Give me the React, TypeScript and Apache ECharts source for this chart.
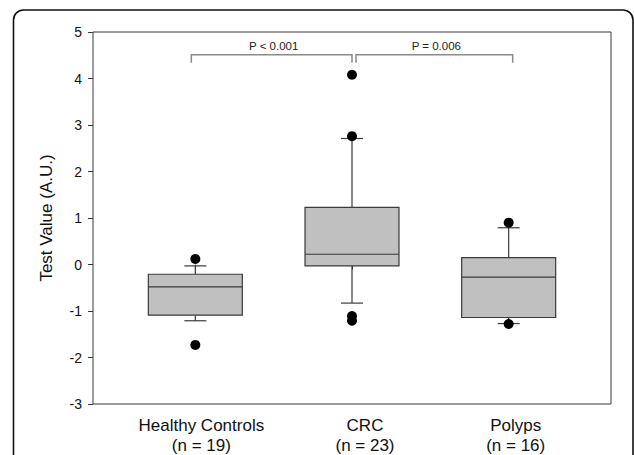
import React, { useEffect, useRef } from "react";
import * as echarts from "echarts";

const categories = ["Healthy Controls", "CRC", "Polyps"];
const sampleSizes = [19, 23, 16];
// [lower whisker, Q1, median, Q3, upper whisker]
const boxStats = [
  [-1.21, -1.09, -0.48, -0.21, -0.03],
  [-0.83, -0.03, 0.22, 1.23, 2.71],
  [-1.27, -1.14, -0.27, 0.15, 0.79],
];
// [category index, value]
const outliers = [
  [0, 0.12],
  [0, -1.73],
  [1, 4.08],
  [1, 2.76],
  [1, -1.11],
  [1, -1.21],
  [2, 0.9],
  [2, -1.28],
];
const comparisonFrom = [0, 1];
const comparisonTo = [1, 2];
const comparisonLabels = ["P < 0.001", "P = 0.006"];
const bracketLevel = 4.51;
const bracketFoot = 4.34;
const yMin = -3;
const yMax = 5;
const yInterval = 1;

const FONT = '"Liberation Sans", Arial, Helvetica, sans-serif';
const DARK = "#3a3a3a";

export default function App() {
  const ref = useRef<HTMLDivElement>(null);

  useEffect(() => {
    if (!ref.current) return;
    const chart = echarts.init(ref.current, undefined, { renderer: "svg" });

    const labelShift = [12, 26, 14];
    const rich: any = {};
    categories.forEach((_, i) => {
      rich["c" + i] = {
        fontSize: 17,
        lineHeight: 19.5,
        fontFamily: FONT,
        color: "#111",
        padding: [0, 0, 0, labelShift[i]],
      };
    });

    const bracketOffsetL = [-4, 4];
    const bracketOffsetR = [0, 4];

    const option: any = {
      animation: false,
      backgroundColor: "#ffffff",
      graphic: [
        {
          type: "rect",
          shape: { x: 13.5, y: 10, width: 619.5, height: 520, r: 10 },
          style: { fill: "none", stroke: "#111", lineWidth: 1.6 },
          silent: true,
        },
      ],
      grid: [
        {
          left: 93,
          top: 32,
          width: 518,
          height: 372,
          show: true,
          borderColor: DARK,
          borderWidth: 1,
          backgroundColor: "transparent",
        },
        { left: 117, top: 32, width: 470, height: 372 },
      ],
      xAxis: [
        { type: "value", gridIndex: 0, min: 0, max: 1, show: false },
        {
          type: "category",
          gridIndex: 1,
          data: categories,
          boundaryGap: true,
          axisLine: { show: false },
          axisTick: {
            show: true,
            alignWithLabel: true,
            length: 5,
            lineStyle: { color: DARK, width: 1 },
          },
          axisLabel: {
            margin: 12,
            interval: 0,
            formatter: (value: string, index: number) =>
              `{c${index}|${value}}\n{c${index}|(n = ${sampleSizes[index]})}`,
            rich,
          },
          splitLine: { show: false },
        },
      ],
      yAxis: [
        {
          type: "value",
          gridIndex: 0,
          min: yMin,
          max: yMax,
          interval: yInterval,
          name: "Test Value (A.U.)",
          nameLocation: "middle",
          nameGap: 38,
          nameTextStyle: { fontSize: 17, fontFamily: FONT, color: "#111" },
          axisLine: { show: false },
          axisTick: { show: true, length: 5, lineStyle: { color: DARK, width: 1 } },
          axisLabel: { fontSize: 14, fontFamily: FONT, color: "#111", margin: 11 },
          splitLine: { show: false },
        },
        {
          type: "value",
          gridIndex: 1,
          min: yMin,
          max: yMax,
          interval: yInterval,
          show: false,
          splitLine: { show: false },
        },
      ],
      series: [
        {
          type: "custom",
          name: "box",
          xAxisIndex: 1,
          yAxisIndex: 1,
          encode: { x: 0, y: [1, 2, 3, 4, 5] },
          data: boxStats.map((s, i) => [i, ...s]),
          renderItem: (params: any, api: any) => {
            const x = api.value(0);
            const low = api.coord([x, api.value(1)]);
            const q1 = api.coord([x, api.value(2)]);
            const med = api.coord([x, api.value(3)]);
            const q3 = api.coord([x, api.value(4)]);
            const high = api.coord([x, api.value(5)]);
            const cx = low[0];
            const bw = api.size([1, 0])[0] * 0.6;
            const cap = 11;
            const ls = { stroke: DARK, lineWidth: 1.2 };
            return {
              type: "group",
              children: [
                { type: "line", shape: { x1: cx, y1: q3[1], x2: cx, y2: high[1] }, style: ls },
                { type: "line", shape: { x1: cx, y1: q1[1], x2: cx, y2: low[1] }, style: ls },
                { type: "line", shape: { x1: cx - cap, y1: high[1], x2: cx + cap, y2: high[1] }, style: ls },
                { type: "line", shape: { x1: cx - cap, y1: low[1], x2: cx + cap, y2: low[1] }, style: ls },
                {
                  type: "rect",
                  shape: { x: cx - bw / 2, y: q3[1], width: bw, height: q1[1] - q3[1] },
                  style: { fill: "#c0c0c0", stroke: DARK, lineWidth: 1.2 },
                },
                { type: "line", shape: { x1: cx - bw / 2, y1: med[1], x2: cx + bw / 2, y2: med[1] }, style: ls },
              ],
            };
          },
          z: 2,
        },
        {
          type: "scatter",
          name: "outliers",
          xAxisIndex: 1,
          yAxisIndex: 1,
          data: outliers,
          symbol: "circle",
          symbolSize: 10,
          itemStyle: { color: "#000", opacity: 1 },
          z: 3,
        },
        {
          type: "custom",
          name: "brackets",
          xAxisIndex: 1,
          yAxisIndex: 1,
          data: comparisonFrom.map((f, i) => [f, comparisonTo[i]]),
          renderItem: (params: any, api: any) => {
            const i = params.dataIndex;
            const a = api.coord([api.value(0), bracketLevel]);
            const b = api.coord([api.value(1), bracketLevel]);
            const foot = api.coord([api.value(0), bracketFoot]);
            const x1 = a[0] + bracketOffsetL[i];
            const x2 = b[0] + bracketOffsetR[i];
            return {
              type: "group",
              children: [
                {
                  type: "polyline",
                  shape: {
                    points: [
                      [x1, foot[1]],
                      [x1, a[1]],
                      [x2, a[1]],
                      [x2, foot[1]],
                    ],
                  },
                  style: { fill: "none", stroke: "#8a8a8a", lineWidth: 1.5 },
                },
                {
                  type: "text",
                  style: {
                    text: comparisonLabels[i],
                    x: (x1 + x2) / 2 + 2,
                    y: a[1] - 9,
                    align: "center",
                    verticalAlign: "middle",
                    fontSize: 11.5,
                    fontFamily: FONT,
                    fill: "#222",
                  },
                },
              ],
            };
          },
          z: 4,
        },
      ],
    };

    chart.setOption(option);
    return () => chart.dispose();
  }, []);

  return (
    <div
      ref={ref}
      style={{ position: "fixed", left: 0, top: 0, width: 634, height: 455, background: "#fff" }}
    />
  );
}
